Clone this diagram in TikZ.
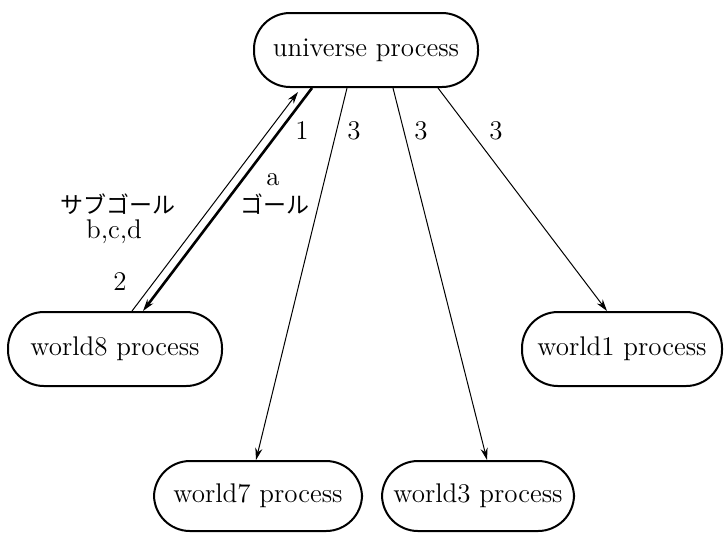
\documentclass[tikz,border=0pt]{standalone}
\usepackage{fontspec}
\newfontfamily\jpfont{Noto Sans CJK JP}
\usetikzlibrary{arrows.meta,calc}
\tikzset{
  proc/.style={draw, line width=1pt, rounded corners=18pt, inner sep=0pt,
    font=\fontsize{13.5}{16}\selectfont},
  thin/.style={line width=0.5pt},
  tip/.style={-{Stealth[length=6pt,width=3.6pt]}},
  lbl/.style={font=\fontsize{13.5}{16}\selectfont, inner sep=0pt},
  jlbl/.style={font=\fontsize{11.5}{13}\selectfont\jpfont, inner sep=0pt}
}
\begin{document}
\begin{tikzpicture}[x=0.5pt,y=-0.5pt]
\useasboundingbox (0,0) rectangle (726,532);
\node[proc, minimum width=112pt, minimum height=37pt] (u) at (366,50) {universe process};
\node[proc, minimum width=107pt, minimum height=37pt] (w8) at (115,349) {world8 process};
\node[proc, minimum width=100pt, minimum height=37pt] (w1) at (622,349) {world1 process};
\node[proc, minimum width=104pt, minimum height=35pt] (w7) at (258,496) {world7 process};
\node[proc, minimum width=96pt, minimum height=35pt] (w3) at (478,496) {world3 process};

% goal / subgoal pair between universe and world8
\draw[thin, tip] ($(w8.north)+(17,0)$) -- ($(u.south)+(-68,4)$);
\draw[line width=1.3pt, tip] ($(u.south)+(-54,0)$) -- ($(w8.north)+(28,0)$);

% subgoals sent out
\draw[thin, tip] ($(u.south)+(-19,0)$) -- ($(w7.north)+(-2,0)$);
\draw[thin, tip] ($(u.south)+(27,0)$) -- ($(w3.north)+(9,0)$);
\draw[thin, tip] ($(u.south)+(72,0)$) -- ($(w1.north)+(-15,0)$);

\node[lbl] (n1) at (302,131) {1};
\node[lbl] (n3a) at (354,131) {3};
\node[lbl] (n3b) at (421,131) {3};
\node[lbl] (n3c) at (496,131) {3};
\node[lbl] (la) at (273,180) {a};
\node[jlbl] (lg) at (275,204) {ゴール};
\node[jlbl] (lsg) at (118,204) {サブゴール};
\node[lbl] (lbcd) at (114,232) {b,c,d};
\node[lbl] (n2) at (120,282) {2};
\end{tikzpicture}
\end{document}
